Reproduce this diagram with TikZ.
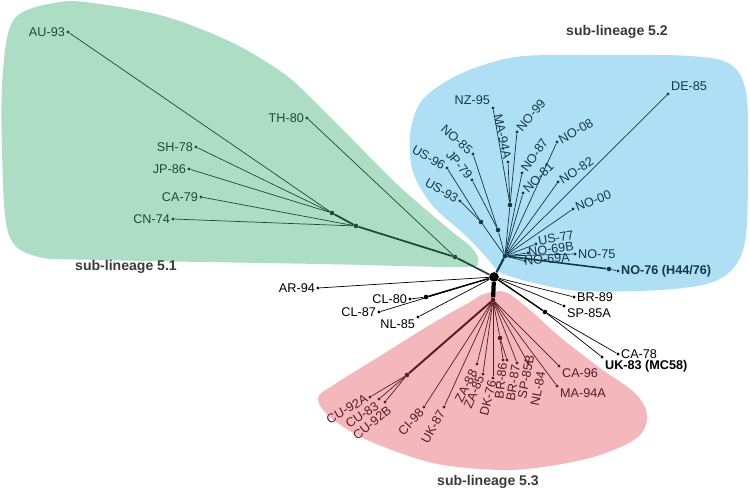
\documentclass[tikz,border=0pt]{standalone}
\usepackage{fontspec}
\setmainfont{Liberation Sans}
\usepackage{tikz}
\usetikzlibrary{positioning}
\definecolor{slgreen}{HTML}{AEDDC6}
\definecolor{slblue}{HTML}{AEDFF4}
\definecolor{slred}{HTML}{F4B8BC}
\definecolor{lngreen}{HTML}{1E4A38}
\definecolor{lnblue}{HTML}{12384C}
\definecolor{lnred}{HTML}{5A1A22}
\definecolor{lngray}{HTML}{3A3A3A}

\begin{document}
\begin{tikzpicture}[x=0.02cm, y=-0.02cm, font=\fontsize{7.2}{8}\selectfont,
    leaf/.style={circle, fill, inner sep=0pt, minimum size=1.8pt},
    hub/.style={circle, fill, inner sep=0pt, minimum size=2.6pt},
    lab/.style={inner sep=1.6pt},
    group/.style={font=\fontsize{8}{9}\selectfont\bfseries, text=lngray}]
        \useasboundingbox (0,0) rectangle (750,492);
        \fill[slgreen] plot[smooth cycle, tension=0.55] coordinates {(2,150) (3,70) (15,18) (60,2) (100,4) (167,17) (233,43) (283,73) (310,97) (350,137) (400,187) (450,230) (472,248) (478,262) (460,267) (320,264) (100,260) (35,256) (8,232)};
        \fill[slblue] plot[smooth cycle, tension=0.55] coordinates {(410,135) (420,103) (445,82) (480,66) (525,56) (610,55) (690,56) (730,64) (746,92) (748,160) (746,235) (735,266) (710,283) (660,290) (580,291) (530,282) (500,272) (487,258) (465,235) (432,205) (413,172)};
        \fill[slred] plot[smooth cycle, tension=0.55] coordinates {(484,294) (505,292) (530,310) (560,337) (600,368) (635,393) (647,415) (638,437) (600,455) (550,466) (500,470) (433,463) (367,440) (330,417) (318,398) (335,384) (380,356) (433,323) (470,302)};

        \node[group] (sl51) at (126,267) {sub-lineage 5.1};
        \node[group] (sl52) at (617,32) {sub-lineage 5.2};
        \node[group] (sl53) at (488,482) {sub-lineage 5.3};

        \node[circle, fill, inner sep=0pt, minimum size=5.5pt] (root) at (494,277) {};

        \begin{scope}[lngreen]
        \node[hub] (g1) at (455,257) {};
        \node[hub] (g2) at (356,226) {};
        \node[hub] (g3) at (332,213) {};
        \node[leaf] (au93) at (68,32) {};
        \node[leaf] (th80) at (307,118) {};
        \node[leaf] (sh78) at (196,147) {};
        \node[leaf] (jp86) at (189,169) {};
        \node[leaf] (ca79) at (201,197) {};
        \node[leaf] (cn74) at (173,219) {};
        \node[lab, anchor=east] (au93t) at (au93) {AU-93};
        \node[lab, anchor=east] (th80t) at (th80) {TH-80};
        \node[lab, anchor=east] (sh78t) at (sh78) {SH-78};
        \node[lab, anchor=east] (jp86t) at (jp86) {JP-86};
        \node[lab, anchor=east] (ca79t) at (ca79) {CA-79};
        \node[lab, anchor=east] (cn74t) at (cn74) {CN-74};
        \draw (au93) -- (g3);
        \draw (sh78) -- (g3);
        \draw (jp86) -- (g3);
        \draw (ca79) -- (g2);
        \draw (cn74) -- (g2);
        \draw (th80) -- (g1);
        \draw[line width=1pt] (g3) -- (g2) -- (g1) -- (root);
        \end{scope}

        \begin{scope}[lnblue]
        \node[hub] (bhub) at (505,256) {};
        \node[hub] (b1) at (510,205) {};
        \node[hub] (b2) at (481,222) {};
        \node[hub] (b3) at (498,230) {};
        \node[hub] (b4) at (609,269) {};
        \node[leaf] (de85) at (668,94) {};
        \node[leaf] (nz95) at (493,108) {};
        \node[leaf] (ma94b) at (508,162) {};
        \node[leaf] (no99) at (517,132) {};
        \node[leaf] (no08) at (557,142) {};
        \node[leaf] (no87) at (522,173) {};
        \node[leaf] (no81) at (523,193) {};
        \node[leaf] (no82) at (558,182) {};
        \node[leaf] (no00) at (573,209) {};
        \node[leaf] (no85) at (473,154) {};
        \node[leaf] (jp79) at (472,180) {};
        \node[leaf] (us96) at (447,168) {};
        \node[leaf] (us93) at (460,201) {};
        \node[leaf] (us77) at (536,244) {};
        \node[leaf] (no69b) at (528,253) {};
        \node[leaf] (no69a) at (525,261) {};
        \node[leaf] (no75) at (575,254) {};
        \node[leaf] (no76) at (618,271) {};
        \node[lab, anchor=south west] (de85t) at (de85) {DE-85};
        \node[lab, anchor=south east] (nz95t) at (nz95) {NZ-95};
        \node[lab, anchor=east, rotate=-78] (ma94bt) at (ma94b) {MA-94A};
        \node[lab, anchor=west, rotate=50] (no99t) at (no99) {NO-99};
        \node[lab, anchor=west, rotate=30] (no08t) at (no08) {NO-08};
        \node[lab, anchor=west, rotate=55] (no87t) at (no87) {NO-87};
        \node[lab, anchor=west, rotate=45] (no81t) at (no81) {NO-81};
        \node[lab, anchor=west, rotate=32] (no82t) at (no82) {NO-82};
        \node[lab, anchor=west, rotate=22] (no00t) at (no00) {NO-00};
        \node[lab, anchor=east, rotate=-42] (no85t) at (no85) {NO-85};
        \node[lab, anchor=east, rotate=-50] (jp79t) at (jp79) {JP-79};
        \node[lab, anchor=east, rotate=-30] (us96t) at (us96) {US-96};
        \node[lab, anchor=east, rotate=-30] (us93t) at (us93) {US-93};
        \node[lab, rotate=10] (us77t) at (556,238) {US-77};
        \node[lab, rotate=8] (no69bt) at (551,249) {NO-69B};
        \node[lab, rotate=5] (no69at) at (547,259) {NO-69A};
        \node[lab, anchor=west] (no75t) at (no75) {NO-75};
        \node[lab, anchor=west, font=\fontsize{7.2}{8}\selectfont\bfseries] (no76t) at (no76) {NO-76 (H44/76)};
        \draw (nz95) -- (b1);
        \draw (ma94b) -- (b1);
        \draw (no99) -- (b1);
        \draw (b1) -- (bhub);
        \draw (us96) -- (b2);
        \draw (us93) -- (b2);
        \draw (b2) -- (bhub);
        \draw (no85) -- (b3);
        \draw (jp79) -- (b3);
        \draw (b3) -- (bhub);
        \draw (de85) -- (bhub);
        \draw (no08) -- (bhub);
        \draw (no87) -- (bhub);
        \draw (no81) -- (bhub);
        \draw (no82) -- (bhub);
        \draw (no00) -- (bhub);
        \draw (us77) -- (bhub);
        \draw (no69b) -- (bhub);
        \draw (no69a) -- (bhub);
        \draw (no75) -- (bhub);
        \draw (no76) -- (b4);
        \draw[line width=0.9pt] (b4) -- (bhub);
        \draw[line width=1.2pt] (bhub) -- (root);
        \end{scope}

        \begin{scope}[black]
        \node[hub] (c1) at (426,297) {};
        \node[hub] (k1) at (545,312) {};
        \node[leaf] (ar94) at (318,288) {};
        \node[leaf] (cl80) at (410,299) {};
        \node[leaf] (cl87) at (379,312) {};
        \node[leaf] (nl85) at (418,317) {};
        \node[leaf] (br89) at (574,297) {};
        \node[leaf] (sp85a) at (564,306) {};
        \node[leaf] (ca78) at (618,354) {};
        \node[leaf] (uk83) at (602,357) {};
        \node[lab, anchor=east] (ar94t) at (ar94) {AR-94};
        \node[lab, anchor=east] (cl80t) at (cl80) {CL-80};
        \node[lab, anchor=east] (cl87t) at (cl87) {CL-87};
        \node[lab, anchor=north east] (nl85t) at (nl85) {NL-85};
        \node[lab, anchor=west] (br89t) at (br89) {BR-89};
        \node[lab, anchor=north west] (sp85at) at (sp85a) {SP-85A};
        \node[lab, anchor=west] (ca78t) at (ca78) {CA-78};
        \node[lab, anchor=north west, font=\fontsize{7.2}{8}\selectfont\bfseries] (uk83t) at (uk83) {UK-83 (MC58)};
        \draw (ar94) -- (root);
        \draw (cl80) -- (c1);
        \draw[line width=0.8pt] (c1) -- (root);
        \draw (cl87) -- (root);
        \draw (nl85) -- (root);
        \draw (br89) -- (root);
        \draw (sp85a) -- (root);
        \draw (ca78) -- (k1);
        \draw (uk83) -- (k1);
        \draw[line width=0.8pt] (k1) -- (root);
        \end{scope}

        \begin{scope}[lnred]
        \node[hub] (rhub) at (493,300) {};
        \node[hub] (r1) at (407,375) {};
        \node[hub] (r2) at (500,338) {};
        \node[leaf] (cu92a) at (370,397) {};
        \node[leaf] (cu83) at (379,399) {};
        \node[leaf] (cu92b) at (385,402) {};
        \node[leaf] (ci98) at (424,407) {};
        \node[leaf] (uk87) at (444,407) {};
        \node[leaf] (za88) at (477,364) {};
        \node[leaf] (za85) at (483,374) {};
        \node[leaf] (dk76) at (493,378) {};
        \node[leaf] (br86) at (503,360) {};
        \node[leaf] (br87) at (507,360) {};
        \node[leaf] (sp85b) at (517,363) {};
        \node[leaf] (nl84) at (528,363) {};
        \node[leaf] (ca96) at (559,366) {};
        \node[leaf] (ma94a) at (557,386) {};
        \node[lab, rotate=30] (cu92at) at (347,409) {CU-92A};
        \node[lab, rotate=34] (cu83t) at (362,415) {CU-83};
        \node[lab, rotate=39] (cu92bt) at (372,423) {CU-92B};
        \node[lab, rotate=47] (ci98t) at (411,422) {CI-98};
        \node[lab, rotate=61] (uk87t) at (433,427) {UK-87};
        \node[lab, rotate=63] (za88t) at (466,386) {ZA-88};
        \node[lab, rotate=67] (za85t) at (474,392) {ZA-85};
        \node[lab, rotate=76] (dk76t) at (488,398) {DK-76};
        \node[lab, rotate=84] (br86t) at (501,381) {BR-86};
        \node[lab, rotate=81] (br87t) at (513,383) {BR-87};
        \node[lab, rotate=79] (sp85bt) at (526,377) {SP-85B};
        \node[lab, rotate=79] (nl84t) at (538,389) {NL-84};
        \node[lab, anchor=north west] (ca96t) at (ca96) {CA-96};
        \node[lab, anchor=north west] (ma94at) at (ma94a) {MA-94A};
        \draw (cu92a) -- (r1);
        \draw (cu83) -- (r1);
        \draw (cu92b) -- (r1);
        \draw[line width=1.1pt] (r1) -- (rhub);
        \draw (ci98) -- (rhub);
        \draw (uk87) -- (rhub);
        \draw (za88) -- (rhub);
        \draw (za85) -- (rhub);
        \draw (dk76) -- (rhub);
        \draw (br86) -- (r2);
        \draw (br87) -- (r2);
        \draw (r2) -- (rhub);
        \draw (sp85b) -- (rhub);
        \draw (nl84) -- (rhub);
        \draw (ca96) -- (rhub);
        \draw (ma94a) -- (rhub);
        \end{scope}
        \draw[line width=2.4pt] (root) -- (rhub);
      \end{tikzpicture}
\end{document}
